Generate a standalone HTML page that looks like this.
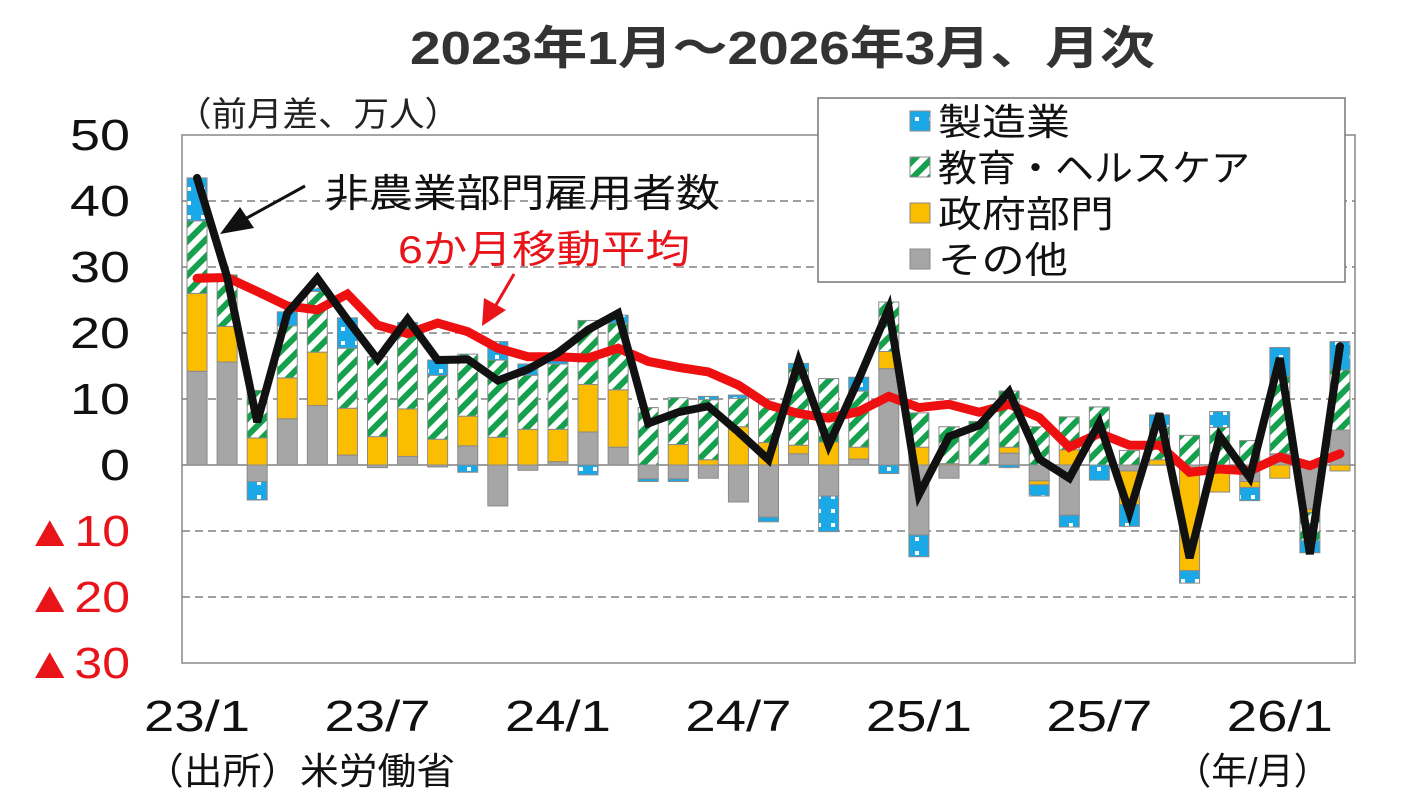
<!DOCTYPE html>
<html><head><meta charset="utf-8">
<style>
html,body{margin:0;padding:0;background:#fff;}
svg{display:block;font-family:"Liberation Sans","Noto Sans CJK JP",sans-serif;}
</style></head>
<body>
<svg id="chart" width="1420" height="812" viewBox="0 0 1420 812" xmlns="http://www.w3.org/2000/svg">
<defs>
<pattern id="edu" patternUnits="userSpaceOnUse" width="12" height="12" patternTransform="rotate(45)">
<rect width="12" height="12" fill="#fff"/><rect width="6" height="12" fill="#14a04c"/>
</pattern>
<pattern id="mfg" patternUnits="userSpaceOnUse" width="14" height="14">
<rect width="14" height="14" fill="#1aa9e6"/><rect x="5" y="5" width="4" height="4" fill="#fff"/>
</pattern>
</defs>
<text x="410" y="64" font-size="46" font-weight="bold" fill="#333" textLength="745" lengthAdjust="spacingAndGlyphs">2023年1月～2026年3月、月次</text>
<text x="176" y="126" font-size="34" fill="#222" textLength="284" lengthAdjust="spacingAndGlyphs">（前月差、万人）</text>
<rect x="182" y="135" width="1173" height="528" fill="none" stroke="#888" stroke-width="1.5"/>
<g id="grid"></g>
<g id="bars"></g>
<g id="lines"></g>
<g id="yticks"></g>
<g id="xticks"></g>
<g>
<rect x="818" y="98" width="527" height="184" fill="#fff" stroke="#777" stroke-width="1.5"/>
<rect x="910" y="111" width="20" height="20" fill="url(#mfg)" stroke="#888"/>
<text x="938" y="135" font-size="37" fill="#111" textLength="132" lengthAdjust="spacingAndGlyphs">製造業</text>
<rect x="910" y="157" width="20" height="20" fill="url(#edu)" stroke="#888"/>
<text x="938" y="181" font-size="37" fill="#111" textLength="312" lengthAdjust="spacingAndGlyphs">教育・ヘルスケア</text>
<rect x="910" y="203" width="20" height="20" fill="#fbbd00" stroke="#888"/>
<text x="938" y="227" font-size="37" fill="#111" textLength="176" lengthAdjust="spacingAndGlyphs">政府部門</text>
<rect x="910" y="249" width="20" height="20" fill="#a6a6a6" stroke="#888"/>
<text x="938" y="273" font-size="37" fill="#111" textLength="130" lengthAdjust="spacingAndGlyphs">その他</text>
</g>
<text x="325" y="207" font-size="39" fill="#111" textLength="395" lengthAdjust="spacingAndGlyphs">非農業部門雇用者数</text>
<line x1="305" y1="186" x2="245" y2="219" stroke="#111" stroke-width="3"/>
<polygon points="220,234 240,207 254,228" fill="#111"/>
<text x="398" y="263" font-size="39" fill="#e8141a" textLength="292" lengthAdjust="spacingAndGlyphs">6か月移動平均</text>
<line x1="514" y1="274" x2="496" y2="305" stroke="#e8141a" stroke-width="3"/>
<polygon points="482,326 484,298 506,310" fill="#e8141a"/>
<text x="145" y="784" font-size="37" fill="#111" textLength="310" lengthAdjust="spacingAndGlyphs">（出所）米労働省</text>
<text x="1175" y="784" font-size="37" fill="#111" textLength="155" lengthAdjust="spacingAndGlyphs">（年/月）</text>
</svg>
<script>
const months = 39;
const tickLabels = ["23/1","23/7","24/1","24/7","25/1","25/7","26/1"];
const tickIndex = [0,6,12,18,24,30,36];
const yTicks = [50,40,30,20,10,0,-10,-20,-30];
const other = [14.2,15.6,-2.5,7.0,9.0,1.5,-0.4,1.3,-0.3,2.9,-6.2,-0.8,0.5,5.0,2.7,-2.1,-2.1,-2.0,-5.6,-7.9,1.7,-4.7,0.9,14.6,-10.6,-2.0,0,1.8,-2.4,-7.6,0,-0.9,0,-0.5,0,-2.5,1.7,-6.7,5.3];
const gov = [11.8,5.4,4.1,6.2,8.1,7.1,4.3,7.2,3.9,4.5,4.2,5.4,4.9,7.2,8.7,0,3.1,0.8,5.8,3.4,1.3,3.5,1.8,2.6,2.7,0.2,0,0.9,-0.6,2.3,0,-5.1,0.8,-15.5,-4.1,-0.9,-2.0,-0.5,-0.9];
const edu = [11.0,7.8,7.2,7.9,9.2,9.1,12.1,12.5,9.7,9.4,11.7,8.2,9.9,9.7,10.1,8.7,7.1,9.1,4.3,5.8,11.6,9.6,8.5,7.5,5.2,5.6,6.6,8.5,5.8,5.0,8.8,2.2,5.0,4.5,5.7,3.7,11.7,-4.3,9.1];
const mfg = [6.5,0,-2.8,2.1,0.5,4.6,0,0.6,2.3,-1.1,2.8,1.7,1.5,-1.5,1.2,-0.4,-0.4,0.5,0.5,-0.7,0.8,-5.4,2.1,-1.3,-3.3,0,0,-0.4,-1.7,-1.8,-2.3,-3.3,1.8,-1.9,2.4,-2.0,4.4,-1.8,4.3];
const nfp = [43.5,28.5,6.5,23,28.3,22,16,22.1,15.9,16,12.8,14.5,17,20.5,23,6.3,8,8.9,5,0.8,15.7,3.0,13,23.7,-4.5,4.3,6,11.1,0.9,-2.0,6.4,-7.2,7.8,-14.1,4.4,-1.9,16.2,-13.5,18];
const movAvg = [28.3,28.4,26.3,24.1,23.5,25.9,21.2,19.9,21.5,20.2,17.7,16.4,16.4,16.2,17.7,15.7,14.8,14.1,12.1,9.1,7.8,7.1,8.1,10.4,8.7,9.2,8.0,9.2,7.2,2.7,4.8,3.0,3.0,-1.1,-0.6,-0.9,1.2,-0.1,1.7];

const NS="http://www.w3.org/2000/svg";
const X0=182, PW=1173, YTOP=135, YBOT=663, VMAX=50, VMIN=-30;
function xs(i){return X0+PW*(i+0.5)/months;}
function ys(v){return YTOP+(VMAX-v)/(VMAX-VMIN)*(YBOT-YTOP);}
function mk(tag,attrs,parent){const e=document.createElementNS(NS,tag);for(const k in attrs)e.setAttribute(k,attrs[k]);parent.appendChild(e);return e;}

const grid=document.getElementById('grid');
yTicks.forEach(v=>{
  if(v===VMAX||v===VMIN)return;
  const l=mk('line',{x1:X0,x2:X0+PW,y1:ys(v),y2:ys(v),stroke:'#808080','stroke-width':1.5},grid);
  if(v!==0)l.setAttribute('stroke-dasharray','8,5');
  
  
});
const yt=document.getElementById('yticks');
yTicks.forEach(v=>{
  const label = v<0 ? '▲'+(-v) : String(v);
  const w = v<0 ? 105 : (label.length*30);
  const t=mk('text',{x:130-w,y:ys(v)+15,'font-size':44,fill:v<0?'#e8141a':'#111',textLength:w,lengthAdjust:'spacingAndGlyphs'},yt);
  t.textContent = label;
  
  
});
const xt=document.getElementById('xticks');
tickLabels.forEach((lab,k)=>{
  const t=mk('text',{x:xs(tickIndex[k])-53,y:731,'font-size':44,fill:'#111',textLength:106,lengthAdjust:'spacingAndGlyphs'},xt);
  t.textContent=lab;
  
  
});

const bars=document.getElementById('bars');
const series=[[other,'#a6a6a6','other'],[gov,'#fbbd00','government'],[edu,'url(#edu)','education-health'],[mfg,'url(#mfg)','manufacturing']];
const BW=20;
for(let i=0;i<months;i++){
  let pos=0,neg=0;
  series.forEach(([arr,fill,name])=>{
    const v=arr[i]; if(!v)return;
    let a,b;
    if(v>0){a=pos;b=pos+v;pos=b;}else{a=neg;b=neg+v;neg=b;}
    const y1=ys(Math.max(a,b)), y2=ys(Math.min(a,b));
    const r=mk('rect',{x:xs(i)-BW/2,y:y1,width:BW,height:y2-y1,fill:fill,stroke:'#8a8a8a','stroke-width':1},bars);
    
    
  });
}
const lines=document.getElementById('lines');
function poly(arr,color,w,name){
  const p=mk('polyline',{points:arr.map((v,i)=>xs(i)+','+ys(v)).join(' '),fill:'none',stroke:color,'stroke-width':w,'stroke-linejoin':'miter','stroke-linecap':'round'},lines);
  
  
}
poly(movAvg,'#ee1010',9,'moving-average-line');
poly(nfp,'#111',8,'nonfarm-payrolls-line');
</script>
</body></html>
